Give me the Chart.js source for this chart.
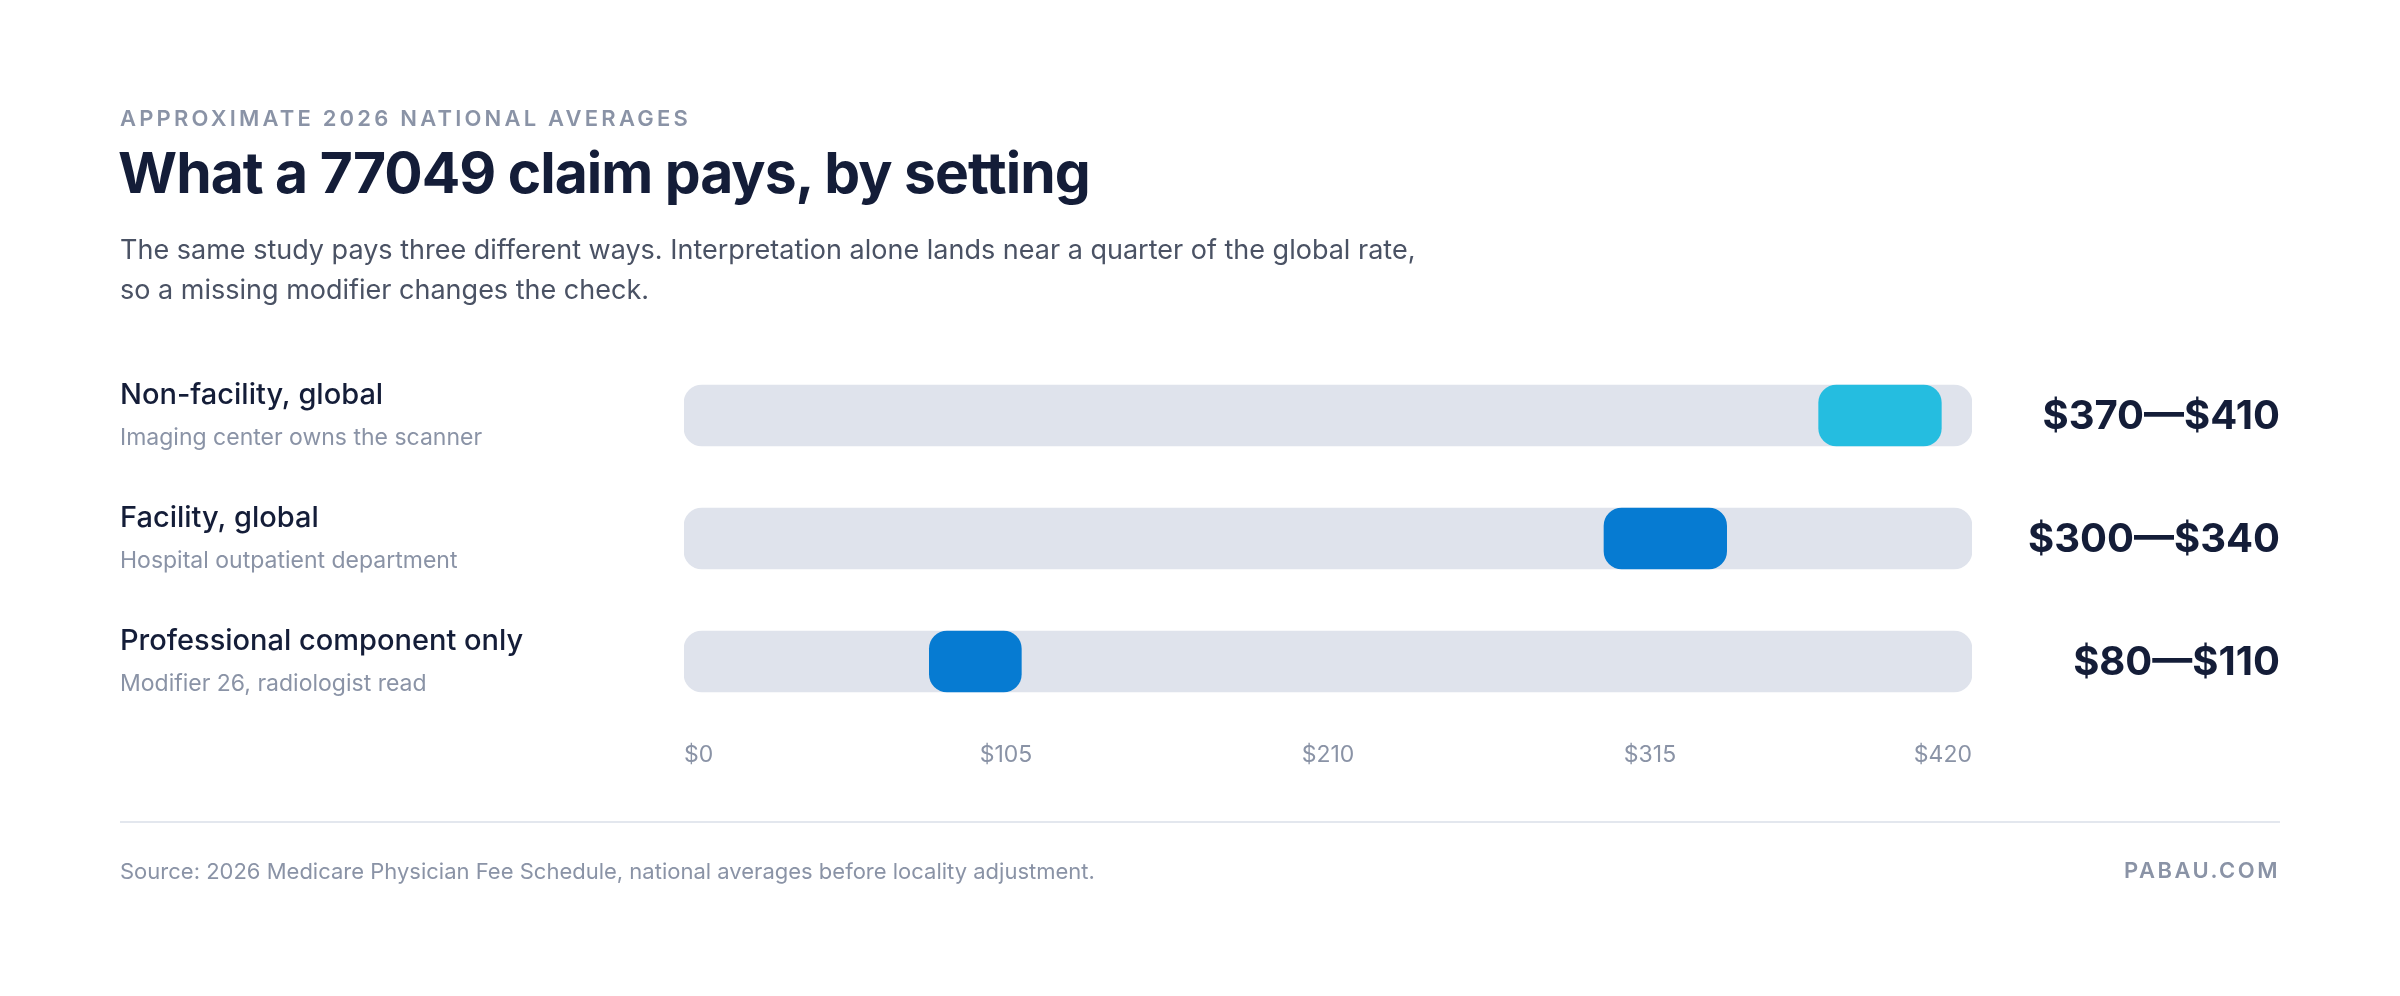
<!DOCTYPE html>
<html><head><meta charset="utf-8">
<script src="https://cdn.jsdelivr.net/npm/chart.js@4"></script>
<style>
html,body{margin:0;padding:0;background:#fff;width:2400px;height:996px;overflow:hidden;font-family:Inter,"Noto Sans",sans-serif}
#wrap{position:absolute;left:0;top:0;width:2400px;height:996px}
.t{position:absolute;white-space:nowrap}
</style></head><body>
<div id="wrap"><canvas id="c" width="2400" height="996"></canvas></div>
<div class="t" style="left:120px;top:105px;font-size:22px;letter-spacing:3.2px;font-weight:600;color:#8A93A6">APPROXIMATE 2026 NATIONAL AVERAGES</div>
<div class="t" style="left:118px;top:138px;font-size:57px;font-weight:700;letter-spacing:-1px;color:#141D38">What a 77049 claim pays, by setting</div>
<div class="t" style="left:120px;top:230px;font-size:27px;line-height:40px;color:#4A5264;white-space:normal;width:1300px">The same study pays three different ways. Interpretation alone lands near a quarter of the global rate, so a missing modifier changes the check.</div>
<div style="position:absolute;left:120px;top:821px;width:2160px;height:2px;background:#E3E7EE"></div>
<div class="t" style="left:120px;top:858px;font-size:22px;color:#8A93A6">Source: 2026 Medicare Physician Fee Schedule, national averages before locality adjustment.</div>
<div class="t" style="right:120px;top:857px;font-size:22px;letter-spacing:2.5px;font-weight:600;color:#8A93A6">PABAU.COM</div>
<script>
const categories = ["Non-facility, global","Facility, global","Professional component only"];
const subLabels = ["Imaging center owns the scanner","Hospital outpatient department","Modifier 26, radiologist read"];
const lowValues = [370,300,80];
const highValues = [410,340,110];
const valueLabels = ["$370\u2014$410","$300\u2014$340","$80\u2014$110"];
const axisMax = 420;
const tickValues = [0,105,210,315,420];
const barColors = ["#25BDE0","#067BD2","#067BD2"];

const labelsPlugin = {
  id:'labels',
  afterDraw(chart){
    const ctx = chart.ctx, y = chart.scales.y;
    categories.forEach((c,i)=>{
      const py = y.getPixelForValue(i);
      ctx.save();
      ctx.textBaseline='middle';
      ctx.textAlign='left';
      ctx.fillStyle='#141D38';
      ctx.font='500 29px Inter, sans-serif';
      ctx.fillText(c,120,py-20);
      ctx.fillStyle='#8A93A6';
      ctx.font='400 23px Inter, sans-serif';
      ctx.fillText(subLabels[i],120,py+23);
      ctx.textAlign='right';
      ctx.fillStyle='#141D38';
      ctx.font='700 40px Inter, sans-serif';
      ctx.fillText(valueLabels[i],2280,py+1);
      ctx.restore();
    });
  }
};

new Chart(document.getElementById('c'),{
  type:'bar',
  data:{
    labels:categories,
    datasets:[
      {data:lowValues.map((v,i)=>[v,highValues[i]]),backgroundColor:barColors,barThickness:61,borderRadius:18,borderSkipped:false,grouped:false,order:0},
      {data:categories.map(()=>[0,axisMax]),backgroundColor:'#DFE3EC',barThickness:61,borderRadius:18,borderSkipped:false,grouped:false,order:1}
    ]
  },
  options:{
    indexAxis:'y',responsive:false,animation:false,
    layout:{padding:{left:684,right:428,top:354,bottom:223}},
    plugins:{legend:{display:false},tooltip:{enabled:false}},
    scales:{
      y:{display:false},
      x:{min:0,max:axisMax,grid:{display:false},border:{display:false},
         afterBuildTicks(a){a.ticks=tickValues.map(v=>({value:v}));},
         afterFit(a){a.height=50;},
         ticks:{align:'inner',padding:10,color:'#8A93A6',font:{family:'Inter',size:23},callback:v=>'$'+v}}
    }
  },
  plugins:[labelsPlugin]
});
</script>
</body></html>
